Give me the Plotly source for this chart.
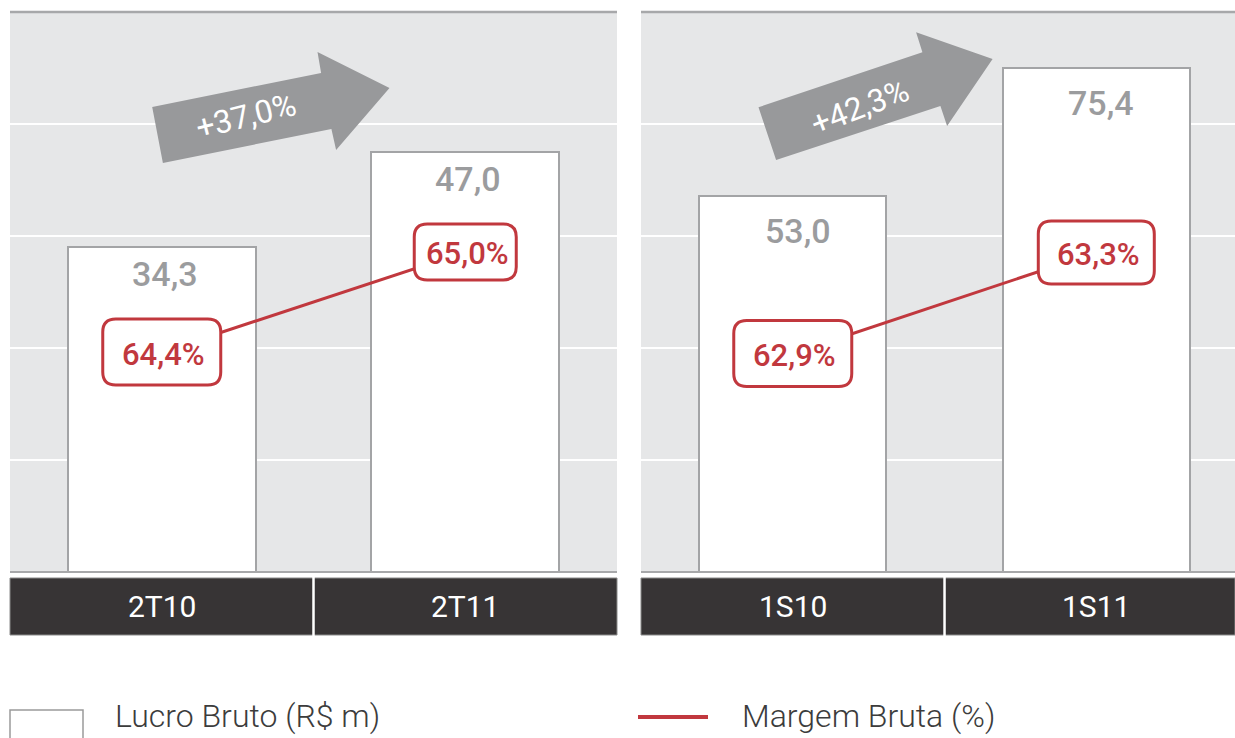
import math
import plotly.graph_objects as go

# ---------------- data ----------------
cats_q = ["2T10", "2T11"]
lucro_q = [34.3, 47.0]
margem_q = [64.4, 65.0]
growth_q = "+37,0%"

cats_s = ["1S10", "1S11"]
lucro_s = [53.0, 75.4]
margem_s = [62.9, 63.3]
growth_s = "+42,3%"

legend_bar = "Lucro Bruto (R$ m)"
legend_line = "Margem Bruta (%)"

# ---------------- style ----------------
W, H = 1235, 738
BG = "#e6e7e8"
RED = "#c1383e"
GREY_TXT = "#9b9c9e"
ARROW = "#98999b"
DARK = "#373435"
FONT = "Roboto"
# label box sizes (w, h) in pixels
box_q = [(118, 66), (102, 56)]
box_s = [(118, 66), (116, 63)]


def px(x):
    return x / W


def py(y):
    return 1 - y / H


def fmt(v, pct=False):
    s = f"{v:.1f}".replace(".", ",")
    return s + ("%" if pct else "")


def rounded_rect(w, h, r=13):
    a, b = w / 2, h / 2
    return (f"M {-a + r},{-b} L {a - r},{-b} Q {a},{-b} {a},{-b + r} "
            f"L {a},{b - r} Q {a},{b} {a - r},{b} L {-a + r},{b} "
            f"Q {-a},{b} {-a},{b - r} L {-a},{-b + r} Q {-a},{-b} {-a + r},{-b} Z")


y_dom = [py(572), py(12)]
xdom_l = [px(10), px(617)]
xdom_r = [px(641), 1.0]

fig = go.Figure()

# bars
fig.add_trace(go.Bar(x=cats_q, y=lucro_q, xaxis="x", yaxis="y", width=0.62,
                     marker=dict(color="white", line=dict(color="#a3a4a6", width=2)),
                     showlegend=False, hoverinfo="x+y"))
fig.add_trace(go.Bar(x=cats_s, y=lucro_s, xaxis="x2", yaxis="y3", width=0.616,
                     marker=dict(color="white", line=dict(color="#a3a4a6", width=2)),
                     showlegend=False, hoverinfo="x+y"))
# margin lines
fig.add_trace(go.Scatter(x=cats_q, y=margem_q, xaxis="x", yaxis="y2", mode="lines",
                         line=dict(color=RED, width=3), showlegend=False))
fig.add_trace(go.Scatter(x=cats_s, y=margem_s, xaxis="x2", yaxis="y4", mode="lines",
                         line=dict(color=RED, width=3), showlegend=False))

annotations = []
shapes = []
# bar value labels
for c, v in zip(cats_q, lucro_q):
    annotations.append(dict(x=c, y=math.log10(v), xref="x", yref="y", text=fmt(v),
                            showarrow=False, yanchor="middle", yshift=-27, xshift=3,
                            font=dict(family=FONT, size=34, color=GREY_TXT, weight=500)))
for c, v in zip(cats_s, lucro_s):
    annotations.append(dict(x=c, y=math.log10(v), xref="x2", yref="y3", text=fmt(v),
                            showarrow=False, yanchor="middle", yshift=-35, xshift=5,
                            font=dict(family=FONT, size=34, color=GREY_TXT, weight=500)))
# margin labels with rounded boxes
for xr, yr, cs, ms, boxes in (("x", "y2", cats_q, margem_q, box_q),
                              ("x2", "y4", cats_s, margem_s, box_s)):
    for c, m, (bw, bh) in zip(cs, ms, boxes):
        shapes.append(dict(type="path", xref=xr, yref=yr, xsizemode="pixel",
                           ysizemode="pixel", xanchor=c, yanchor=m,
                           path=rounded_rect(bw, bh), fillcolor="white",
                           line=dict(color=RED, width=3), layer="above"))
        annotations.append(dict(x=c, y=m, xref=xr, yref=yr, text=fmt(m, True),
                                showarrow=False, xanchor="center", yanchor="middle",
                                xshift=2, yshift=-2,
                                font=dict(family=FONT, size=31, color=RED, weight=500)))
# growth arrow texts
annotations.append(dict(x=px(246), y=py(116), xref="paper", yref="paper", text=growth_q,
                        showarrow=False, textangle=-14, xanchor="center", yanchor="middle",
                        font=dict(family=FONT, size=32, color="white")))
annotations.append(dict(x=px(860), y=py(107), xref="paper", yref="paper", text=growth_s,
                        showarrow=False, textangle=-21, xanchor="center", yanchor="middle",
                        font=dict(family=FONT, size=32, color="white")))
# category labels in the dark bands
for xr, cs in (("x", cats_q), ("x2", cats_s)):
    for c in cs:
        annotations.append(dict(x=c, y=py(606.5), xref=xr, yref="paper", text=c,
                                showarrow=False, yanchor="middle",
                                font=dict(family=FONT, size=30, color="white", weight=400)))
# legend texts
annotations.append(dict(x=px(113), y=py(716), xref="paper", yref="paper", text=legend_bar,
                        showarrow=False, xanchor="left", yanchor="middle",
                        font=dict(family=FONT, size=32, color="#3c3c3c", weight=300)))
annotations.append(dict(x=px(740), y=py(716), xref="paper", yref="paper", text=legend_line,
                        showarrow=False, xanchor="left", yanchor="middle",
                        font=dict(family=FONT, size=32, color="#3c3c3c", weight=300)))

# gridlines / frame lines
for xdom_ref in ("x domain", "x2 domain"):
    yref = "y domain" if xdom_ref == "x domain" else "y3 domain"
    for f in (0.2, 0.4, 0.6, 0.8):
        shapes.append(dict(type="line", xref=xdom_ref, yref=yref, x0=0, x1=1, y0=f, y1=f,
                           line=dict(color="white", width=2), layer="below"))
    shapes.append(dict(type="line", xref=xdom_ref, yref=yref, x0=0, x1=1, y0=1, y1=1,
                       line=dict(color="#a7a8aa", width=2.5), layer="below"))
    shapes.append(dict(type="line", xref=xdom_ref, yref=yref, x0=0, x1=1, y0=0, y1=0,
                       line=dict(color="#a7a8aa", width=2), layer="above"))
    # dark category band
    shapes.append(dict(type="rect", xref=xdom_ref, yref="paper", x0=0, x1=1,
                       y0=py(635), y1=py(578), fillcolor=DARK,
                       line=dict(color="#8a8a8a", width=1), layer="above"))
# separators in bands
shapes.append(dict(type="line", xref="x", yref="paper", x0=0.5, x1=0.5, y0=py(636), y1=py(577),
                   line=dict(color="white", width=2.5), layer="above"))
shapes.append(dict(type="line", xref="x2", yref="paper", x0=0.5, x1=0.5, y0=py(636), y1=py(577),
                   line=dict(color="white", width=2.5), layer="above"))


def path(pts):
    return "M " + " L ".join(f"{px(a):.5f},{py(b):.5f}" for a, b in pts) + " Z"


arrow1 = [(152.2, 107), (321.1, 73), (317.5, 52), (389.5, 88), (336.1, 150),
          (331.4, 129), (162.9, 163)]
arrow2 = [(758.5, 107.3), (922.4, 52.3), (916.1, 32.3), (992.6, 59), (947.1, 126),
          (940.4, 106), (776.1, 160)]
for a in (arrow1, arrow2):
    shapes.append(dict(type="path", xref="paper", yref="paper", path=path(a),
                       fillcolor=ARROW, line=dict(width=0), layer="above"))

# legend symbols
shapes.append(dict(type="rect", xref="paper", yref="paper", x0=px(10), x1=px(83),
                   y0=py(745), y1=py(710), fillcolor="white",
                   line=dict(color="#9a9a9a", width=1.5)))
shapes.append(dict(type="line", xref="paper", yref="paper", x0=px(638), x1=px(708),
                   y0=py(717), y1=py(717), line=dict(color=RED, width=4)))

fig.update_layout(
    width=W, height=H,
    margin=dict(l=0, r=0, t=0, b=0),
    paper_bgcolor="white",
    plot_bgcolor=BG,
    bargap=0,
    showlegend=False,
    font=dict(family=FONT),
    xaxis=dict(domain=xdom_l, anchor="y", type="category", range=[-0.5, 1.5],
               showgrid=False, zeroline=False, showline=False, showticklabels=False),
    yaxis=dict(domain=y_dom, anchor="x", type="log", range=[1.06726, 1.87371],
               showgrid=False, zeroline=False, showline=False, showticklabels=False),
    yaxis2=dict(overlaying="y", anchor="x", range=[63.08, 66.44], visible=False),
    xaxis2=dict(domain=xdom_r, anchor="y3", type="category", range=[-0.5, 1.457],
                showgrid=False, zeroline=False, showline=False, showticklabels=False),
    yaxis3=dict(domain=y_dom, anchor="x2", type="log", range=[1.27457, 1.94434],
                showgrid=False, zeroline=False, showline=False, showticklabels=False),
    yaxis4=dict(overlaying="y3", anchor="x2", range=[62.035, 64.252], visible=False),
    annotations=annotations,
    shapes=shapes,
)

fig.write_html("out.html")
